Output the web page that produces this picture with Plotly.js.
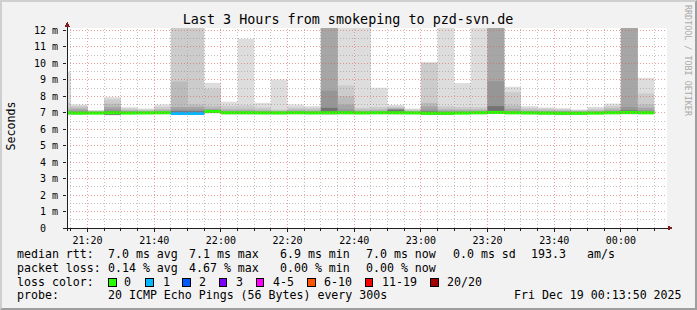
<!DOCTYPE html>
<html><head><meta charset="utf-8">
<script src="https://cdn.plot.ly/plotly-3.0.1.min.js"></script>
<style>
html,body{margin:0;padding:0;background:#f2f2f2;}
#wrap{position:relative;width:697px;height:310px;}
#chart{position:absolute;left:0;top:0;width:697px;height:310px;}
#frame{position:absolute;left:0;top:0;width:697px;height:310px;box-sizing:border-box;
 border-top:2px solid #cfcfcf;border-left:2px solid #cfcfcf;border-right:2px solid #9e9e9e;border-bottom:2px solid #9e9e9e;pointer-events:none;}
.shapelayer path{shape-rendering:crispEdges;}
</style></head>
<body><div id="wrap"><div id="chart"></div><div id="frame"></div></div>
<script>
// ---- data ----
const times = ['2025-12-18 21:10','2025-12-18 21:15','2025-12-18 21:20','2025-12-18 21:25','2025-12-18 21:30','2025-12-18 21:35',
 '2025-12-18 21:40','2025-12-18 21:45','2025-12-18 21:50','2025-12-18 21:55','2025-12-18 22:00','2025-12-18 22:05',
 '2025-12-18 22:10','2025-12-18 22:15','2025-12-18 22:20','2025-12-18 22:25','2025-12-18 22:30','2025-12-18 22:35',
 '2025-12-18 22:40','2025-12-18 22:45','2025-12-18 22:50','2025-12-18 22:55','2025-12-18 23:00','2025-12-18 23:05',
 '2025-12-18 23:10','2025-12-18 23:15','2025-12-18 23:20','2025-12-18 23:25','2025-12-18 23:30','2025-12-18 23:35',
 '2025-12-18 23:40','2025-12-18 23:45','2025-12-18 23:50','2025-12-18 23:55','2025-12-19 00:00','2025-12-19 00:05'];
// smoke band tops (ms), outermost (max) to innermost
const hi1 = [9.5,7.5,7.16,7.95,7.34,7.26,7.5,12.2,12.2,8.82,7.67,11.5,7.6,9.02,7.5,7.4,12.2,12.2,12.2,8.52,7.48,7.26,10.05,12.2,8.8,12.2,12.2,8.58,7.4,7.32,7.28,7.2,7.35,7.56,12.2,9.12];
const hi2 = [7.6,7.42,7.13,7.82,7.26,7.2,7.35,12.2,12.2,8.47,7.42,7.45,7.32,7.2,7.32,7.3,12.2,8.66,7.3,7.35,7.38,7.2,10.05,7.4,7.35,7.35,12.2,8.25,7.3,7.26,7.22,7.16,7.25,7.4,12.2,8.17];
const hi3 = [7.3,7.32,7.1,7.55,7.18,7.15,7.22,8.9,7.5,7.4,7.25,7.25,7.2,7.14,7.22,7.2,12.2,8.0,7.2,7.22,7.3,7.14,7.6,7.25,7.22,7.22,12.2,7.45,7.2,7.18,7.15,7.12,7.16,7.28,12.2,7.5];
const hi4 = [7.2,7.22,7.07,7.35,7.12,7.1,7.14,7.35,7.35,7.25,7.15,7.15,7.12,7.1,7.14,7.12,12.2,7.5,7.12,7.14,7.25,7.1,7.4,7.15,7.14,7.14,12.2,7.25,7.12,7.1,7.1,7.08,7.1,7.18,12.2,7.3];
const hi5 = [7.1,7.12,7.04,7.2,7.08,7.06,7.08,7.2,7.2,7.18,7.08,7.08,7.07,7.06,7.08,7.07,8.35,7.2,7.07,7.08,7.22,7.06,7.2,7.08,7.08,7.08,8.92,7.12,7.07,7.06,7.06,7.05,7.06,7.1,7.35,7.15];
const hi6 = [7.05,7.05,7.02,7.1,7.04,7.03,7.04,7.1,7.1,7.12,7.04,7.04,7.03,7.03,7.04,7.03,7.3,7.08,7.03,7.04,7.18,7.03,7.08,7.04,7.04,7.04,7.4,7.05,7.03,7.03,7.03,7.02,7.03,7.05,7.15,7.06];
const median = [7.0,6.98,6.98,7.0,6.98,6.99,7.0,6.96,6.96,7.08,7.0,7.0,6.99,6.99,7.0,6.99,7.0,7.0,6.99,7.0,7.0,6.99,6.97,6.97,6.98,7.0,7.02,7.0,6.99,6.98,6.97,6.97,6.98,7.0,7.02,7.0];
const lo2 = [6.92,6.92,6.93,6.88,6.93,6.94,6.94,6.9,6.9,7.0,6.93,6.93,6.93,6.93,6.94,6.94,6.92,6.94,6.93,6.94,6.93,6.94,6.9,6.9,6.93,6.94,6.96,6.94,6.93,6.92,6.9,6.91,6.93,6.94,6.95,6.94];
const lo1 = [6.85,6.88,6.9,6.84,6.9,6.9,6.9,6.86,6.86,6.95,6.88,6.88,6.9,6.88,6.9,6.9,6.88,6.9,6.9,6.9,6.88,6.9,6.86,6.86,6.9,6.9,6.92,6.9,6.88,6.86,6.85,6.86,6.9,6.9,6.9,6.9];
const lostPings = [0,0,0,0,0,0,0,1,1,0,0,0,0,0,0,0,0,0,0,0,0,0,0,0,0,0,0,0,0,0,0,0,0,0,0,0];
const lossLabels = ['0','1','2','3','4-5','6-10','11-19','20/20'];
const lossColors = ['#26ff00','#00b8ff','#0059ff','#7e00ff','#ff00ff','#ff5500','#ff0000','#a10000'];
const yTickVals = [0,1,2,3,4,5,6,7,8,9,10,11,12];
const yTickText = ['0\u00a0\u00a0','1 m','2 m','3 m','4 m','5 m','6 m','7 m','8 m','9 m','10 m','11 m','12 m'];
const titleText = 'Last 3 Hours from smokeping to pzd-svn.de';
const rttLabel = 'median rtt:';
const rttStats = ['7.0 ms avg','7.1 ms max','6.9 ms min','7.0 ms now','0.0 ms sd','193.3','am/s'];
const lossLabel = 'packet loss:';
const lossStats = ['0.14 % avg','4.67 % max','0.00 % min','0.00 % now'];
const colorLabel = 'loss color:';
const probeLabel = 'probe:';
const probeText = '20 ICMP Echo Pings (56 Bytes) every 300s';
const dateText = 'Fri Dec 19 00:13:50 2025';
const yTitle = 'Seconds';
const watermark = 'RRDTOOL / TOBI OETIKER';

// ---- layout geometry ----
const W=697,H=310,L=67,R=30,T=28,B=82;
const PW=W-L-R, PH=H-T-B;
const YMAX=12.15;
const xRange=['2025-12-18 21:13:50','2025-12-19 00:13:50'];
const px = x => (x-L)/PW;
const py = y => (T+PH-y)/PH;
const MONO='DejaVu Sans Mono';
const STEP=300000;

const bandColors=['#dddddd','#cccccc','#bbbbbb','#a6a6a6','#969696','#737373'];
const his=[hi1,hi2,hi3,hi4,hi5,hi6];
const traces=[];
his.forEach((h,k)=>{
  const lo = k===0 ? lo1 : lo2;
  traces.push({type:'bar',x:times,base:lo,y:h.map((v,i)=>v-lo[i]),width:STEP,offset:0,
    marker:{color:bandColors[k],line:{width:0}},hoverinfo:'skip'});
});
const mh = 3*YMAX/PH;
traces.push({type:'bar',x:times,base:median.map(v=>v-mh/2),y:median.map(()=>mh),width:STEP,offset:0,
  marker:{color:lostPings.map(n=>lossColors[n<4?n:(n<6?4:(n<11?5:(n<20?6:7)))]),line:{width:0}},hoverinfo:'skip'});

// grid shapes above traces
const shapes=[];
const MAJ='rgba(222,79,79,0.55)', MIN='rgba(143,143,143,0.55)';
for(let v=0.5; v<=YMAX; v+=0.5){
  const major = Math.abs(v-Math.round(v))<1e-9;
  shapes.push({type:'line',layer:'above',xref:'paper',yref:'y',x0:0,x1:1,y0:v,y1:v,
    line:{color:major?MAJ:MIN,width:1,dash:'1px,2px'}});
}
const t0=new Date('2025-12-18T21:15:00Z').getTime();
for(let t=t0; t<=new Date('2025-12-19T00:13:00Z').getTime(); t+=STEP){
  const d=new Date(t); const m=d.getUTCMinutes();
  const major = m%20===0;
  const s=d.toISOString().replace('T',' ').slice(0,19);
  shapes.push({type:'line',layer:'above',xref:'x',yref:'paper',x0:s,x1:s,y0:0,y1:1,
    line:{color:major?MAJ:MIN,width:1,dash:'1px,2px'}});
}
// axes lines
shapes.push({type:'line',layer:'above',xref:'paper',yref:'paper',x0:px(63),x1:px(669),y0:0,y1:0,line:{color:'#1f1f1f',width:1}});
shapes.push({type:'line',layer:'above',xref:'paper',yref:'paper',x0:0,x1:0,y0:py(231),y1:py(24),line:{color:'#1f1f1f',width:1}});
// arrows
shapes.push({type:'path',layer:'above',xref:'paper',yref:'paper',
  path:`M ${px(668)} ${py(225.5)} L ${px(673)} ${py(228)} L ${px(668)} ${py(230.5)} Z`,fillcolor:'#801f1f',line:{width:0}});
shapes.push({type:'path',layer:'above',xref:'paper',yref:'paper',
  path:`M ${px(64.5)} ${py(26.5)} L ${px(67)} ${py(21.5)} L ${px(69.5)} ${py(26.5)} Z`,fillcolor:'#801f1f',line:{width:0}});

// legend annotations
const ann=[];
const txt=(x,y,text,extra)=>ann.push(Object.assign({xref:'paper',yref:'paper',x:px(x),y:py(y),text:text,showarrow:false,
  xanchor:'left',yanchor:'middle',borderpad:0,font:{family:MONO,size:11.6,color:'#000'}},extra||{}));
const r1=254.3,r2=268.3,r3=282.3,r4=295.3;
txt(16,r1,rttLabel);
[107.3,187.7,279.3,365,451.7,530,585.7].forEach((x,i)=>txt(x,r1,rttStats[i]));
txt(16,r2,lossLabel);
[107.3,187.7,279.3,365].forEach((x,i)=>txt(x,r2,lossStats[i]));
txt(16,r3,colorLabel);
const boxX=[108.3,145.7,182.3,219,256,307.3,365,430.7];
const labX=[123.3,161.7,198.3,235,271.7,322.7,380.7,446];
lossLabels.forEach((lab,i)=>{
  shapes.push({type:'rect',layer:'above',xref:'paper',yref:'paper',x0:px(boxX[i]),x1:px(boxX[i]+7.7),y0:py(278.3),y1:py(286),
    fillcolor:lossColors[i],line:{color:'#000',width:1}});
  txt(labX[i],r3,lab);
});
txt(16,r4,probeLabel);
txt(107.3,r4,probeText);
txt(513.3,r4,dateText);
ann.push({xref:'paper',yref:'paper',x:px(10.5),y:py(126),text:yTitle,textangle:-90,showarrow:false,
  xanchor:'center',yanchor:'middle',font:{family:MONO,size:11.6,color:'#000'}});
ann.push({xref:'paper',yref:'paper',x:px(688),y:py(61),text:watermark,textangle:90,showarrow:false,
  xanchor:'center',yanchor:'middle',font:{family:MONO,size:8.4,color:'#aaaaaa'}});

const layout={width:W,height:H,margin:{l:L,r:R,t:T,b:B},paper_bgcolor:'#f2f2f2',plot_bgcolor:'#ffffff',
  barmode:'overlay',showlegend:false,
  title:{text:titleText,x:0.4993,xanchor:'center',y:1-19/H,yanchor:'middle',font:{family:MONO,size:13.4,color:'#000'}},
  xaxis:{type:'date',range:xRange,showgrid:false,zeroline:false,showline:false,tickformat:'%H:%M',
    tick0:'2025-12-18 21:20:00',dtick:1200000,ticks:'outside',ticklen:3,tickcolor:'#1f1f1f',
    tickfont:{family:MONO,size:10,color:'#000'},
    minor:{dtick:STEP,tick0:'2025-12-18 21:15:00',ticks:'outside',ticklen:2,tickcolor:'#1f1f1f',showgrid:false}},
  yaxis:{range:[0,YMAX],showgrid:false,zeroline:false,showline:false,tickvals:yTickVals,ticktext:yTickText,
    ticks:'outside',ticklen:3,tickcolor:'#1f1f1f',tickfont:{family:MONO,size:10,color:'#000'},ticklabelstandoff:3},
  shapes:shapes,annotations:ann};
Plotly.newPlot('chart',traces,layout,{staticPlot:true,displayModeBar:false});
</script></body></html>
